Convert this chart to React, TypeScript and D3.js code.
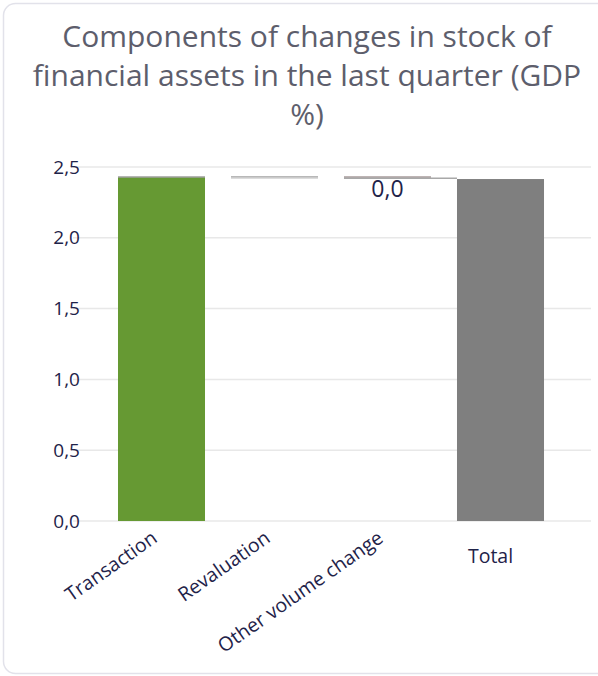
import React, { useEffect, useRef } from 'react';
import * as d3 from 'd3';

const titleLines = ['Components of changes in stock of', 'financial assets in the last quarter (GDP', '%)'];
const categories = ['Transaction', 'Revaluation', 'Other volume change', 'Total'];
// waterfall segments: start and end level of each bar
const barStart = [0, 2.42, 2.42, 0];
const barEnd = [2.43, 2.43, 2.43, 2.415];
const barColors = ['#669933', '#ffffff', '#d9d3d3', '#7f7f7f'];
const barLabels = ['', '', '0,0', ''];
const yTicks = [0, 0.5, 1, 1.5, 2, 2.5];

const App: React.FC = () => {
  const svgRef = useRef<SVGSVGElement>(null);

  useEffect(() => {
    if (!svgRef.current) return;
    const W = 598, H = 676;
    const svg = d3.select(svgRef.current).attr('width', W).attr('height', H).html('');

    svg.append('rect')
      .attr('x', 3.5).attr('y', 3.5).attr('width', W + 10).attr('height', H - 6)
      .attr('rx', 12).attr('ry', 12)
      .style('fill', '#fff').style('stroke', '#e2e2ea').style('stroke-width', 1.5);

    svg.append('g').selectAll('text').data(titleLines).join('text')
      .attr('x', 307).attr('y', (_, i) => 47 + i * 39)
      .attr('text-anchor', 'middle')
      .style('font-family', 'Open Sans, sans-serif').style('font-size', '30px')
      .style('fill', '#5d5e6c')
      .text(d => d);

    const y = d3.scaleLinear().domain([0, 2.5]).range([521, 167]);
    const x = d3.scaleBand().domain(categories).range([105, 557]).paddingInner(0.23).paddingOuter(0.115);

    // gridlines
    svg.append('g').selectAll('line').data(yTicks).join('line')
      .attr('x1', 73).attr('x2', 591)
      .attr('y1', d => y(d)).attr('y2', d => y(d))
      .style('stroke', '#e8e8e8').style('stroke-width', 1.5);

    svg.append('g').selectAll('text').data(yTicks).join('text')
      .attr('x', 80).attr('y', d => y(d)).attr('dy', '0.35em')
      .attr('text-anchor', 'end')
      .style('font-family', 'Open Sans, sans-serif').style('font-size', '19px')
      .style('fill', '#1f2349')
      .text(d => d3.format('.1f')(d).replace('.', ','));

    // bars
    categories.forEach((c, i) => {
      const lo = Math.min(barStart[i], barEnd[i]);
      const hi = Math.max(barStart[i], barEnd[i]);
      const bx = x(c)!;
      svg.append('rect')
        .attr('x', bx).attr('y', y(hi)).attr('width', x.bandwidth())
        .attr('height', Math.max(1, y(lo) - y(hi)))
        .style('fill', barColors[i]);
      if (i < 3) {
        svg.append('line')
          .attr('x1', bx).attr('x2', bx + x.bandwidth())
          .attr('y1', y(hi)).attr('y2', y(hi))
          .style('stroke', i === 2 ? '#a89c9c' : '#a0a0a0').style('stroke-width', 1.5);
      }
      if (i > 0 && i < 3) {
        svg.append('line')
          .attr('x1', bx).attr('x2', i === 2 ? x(categories[3])! : bx + x.bandwidth())
          .attr('y1', y(lo)).attr('y2', y(lo))
          .style('stroke', i === 2 ? '#a8a8a8' : '#dcdcdc').style('stroke-width', 1.5);
      }
      if (barLabels[i]) {
        svg.append('text')
          .attr('x', bx + x.bandwidth() / 2).attr('y', 197)
          .attr('text-anchor', 'middle')
          .style('font-family', 'Open Sans, sans-serif').style('font-size', '23px')
          .style('fill', '#1f2349')
          .text(barLabels[i]);
      }
    });

    // category labels
    categories.forEach((c, i) => {
      const cx = x(c)! + x.bandwidth() / 2;
      const t = svg.append('text')
        .style('font-family', 'Open Sans, sans-serif').style('font-size', '19.5px')
        .style('fill', '#1f2349')
        .text(c);
      if (i === 3) {
        t.attr('x', cx - 10).attr('y', 563).attr('text-anchor', 'middle');
      } else {
        t.attr('text-anchor', 'end')
          .attr('transform', `translate(${cx - 3},${541}) rotate(-35)`);
      }
    });
  }, []);

  return <svg ref={svgRef} style={{ position: 'absolute', left: 0, top: 0 }} />;
};

export default App;
